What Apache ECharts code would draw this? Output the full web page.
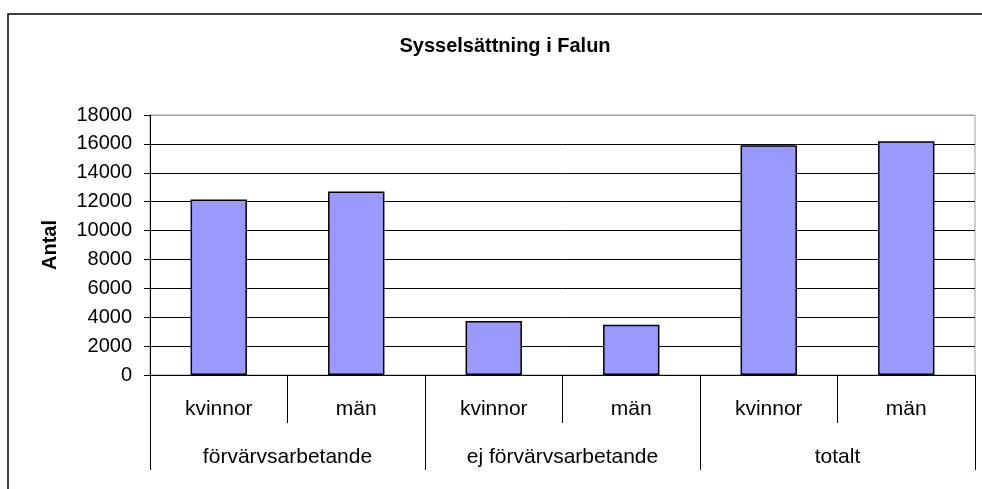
<!DOCTYPE html>
<html>
<head>
<meta charset="utf-8">
<title>Sysselsättning i Falun</title>
<script src="https://cdn.jsdelivr.net/npm/echarts@6/dist/echarts.min.js"></script>
<style>
    html, body { margin: 0; padding: 0; background: #fff; }
    #main { width: 982px; height: 489px; }
</style>
</head>
<body>
<div id="main"></div>
<script>
    // data
    var subCategories = ['kvinnor', 'män', 'kvinnor', 'män', 'kvinnor', 'män'];
    var groups = ['förvärvsarbetande', 'ej förvärvsarbetande', 'totalt'];
    var antal = [12150, 12700, 3730, 3480, 15900, 16180];
    var yTicks = { min: 0, max: 18000, step: 2000 };

    var chart = echarts.init(document.getElementById('main'));

    // grid lines black, top one grey like the plot border
    var lineColors = [];
    for (var v = yTicks.min; v <= yTicks.max; v += yTicks.step) {
        lineColors.push(v === yTicks.max ? '#a0a0a0' : '#000');
    }

    var font = 'Liberation Sans, Arial, sans-serif';

    var option = {
        animation: false,
        backgroundColor: '#fff',
        textStyle: { fontFamily: font, color: '#000' },
        title: {
            text: 'Sysselsättning i Falun',
            left: 500,
            top: 31,
            textAlign: 'center',
            textStyle: { fontFamily: font, fontSize: 20, fontWeight: 'bold', color: '#000' }
        },
        graphic: [{
            type: 'rect',
            shape: { x: 8, y: 14, width: 1000, height: 500 },
            style: { fill: null, stroke: '#000', lineWidth: 1.5 },
            silent: true,
            z: 100
        }],
        grid: {
            left: 150,
            right: 7,
            top: 115,
            bottom: 114,
            show: true,
            borderColor: '#a0a0a0',
            borderWidth: 1
        },
        xAxis: [
            {
                type: 'category',
                data: subCategories,
                position: 'bottom',
                axisLine: { lineStyle: { color: '#000', width: 1 } },
                axisTick: { show: true, interval: 0, length: 48, lineStyle: { color: '#000' } },
                axisLabel: { interval: 0, margin: 24, fontSize: 21, color: '#000', fontFamily: font },
                splitLine: { show: false }
            },
            {
                type: 'category',
                data: groups,
                position: 'bottom',
                axisLine: { show: false },
                axisTick: { show: true, interval: 0, length: 95, lineStyle: { color: '#000' } },
                axisLabel: { interval: 0, margin: 72, fontSize: 21, color: '#000', fontFamily: font },
                splitLine: { show: false }
            }
        ],
        yAxis: {
            type: 'value',
            min: yTicks.min,
            max: yTicks.max,
            interval: yTicks.step,
            name: 'Antal',
            nameLocation: 'middle',
            nameGap: 90,
            nameRotate: 90,
            nameTextStyle: { fontFamily: font, fontSize: 20, fontWeight: 'bold', color: '#000' },
            axisLine: { show: true, lineStyle: { color: '#000', width: 1 } },
            axisTick: { show: true, length: 6, lineStyle: { color: '#000' } },
            axisLabel: {
                margin: 18, fontSize: 20, color: '#000', fontFamily: font,
                formatter: function (val) { return String(val); }
            },
            splitLine: { show: true, lineStyle: { color: lineColors, width: 1 } }
        },
        series: [{
            type: 'bar',
            xAxisIndex: 0,
            data: antal,
            barWidth: '41%',
            itemStyle: { color: '#9999ff', borderColor: '#000', borderWidth: 1.5 }
        }]
    };

    chart.setOption(option);
</script>
</body>
</html>
